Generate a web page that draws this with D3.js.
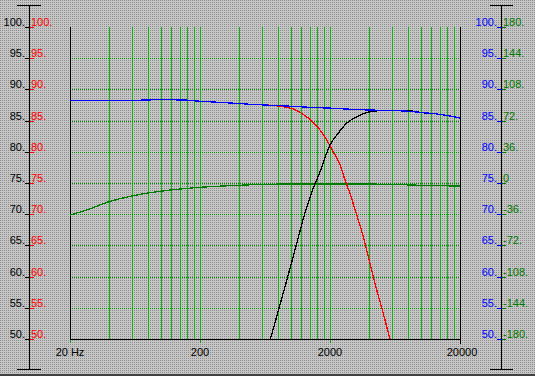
<!DOCTYPE html>
<html>
<head>
<meta charset="utf-8">
<script src="https://cdn.jsdelivr.net/npm/d3@7"></script>
<style>
  body { margin: 0; background: #c0c0c0; }
  svg { display: block; }
  text { font-family: "Liberation Sans", Arial, sans-serif; font-size: 11px; }
</style>
</head>
<body>
<div id="chart"></div>
<script>
// ---- data ----
const splTicks = [50, 55, 60, 65, 70, 75, 80, 85, 90, 95, 100];
const phaseTicks = [-180, -144, -108, -72, -36, 0, 36, 72, 108, 144, 180];
const freqTicks = [20, 200, 2000, 20000];
const freqTickText = ["20 Hz", "200", "2000", "20000"];

// [Hz, dB]
const totalResponse = [
  [20, 88.2], [50, 88.2], [100, 88.35], [150, 88.3], [200, 88.1], [300, 87.9],
  [500, 87.6], [800, 87.4], [1000, 87.3], [1500, 87.1], [2000, 87.0], [3000, 86.8],
  [4000, 86.7], [6000, 86.6], [8000, 86.5], [10000, 86.3], [14000, 86.0],
  [17000, 85.7], [20000, 85.4]
];
const wooferResponse = [
  [20, 88.2], [50, 88.2], [100, 88.35], [150, 88.3], [200, 88.1], [300, 87.9],
  [500, 87.6], [750, 87.4], [850, 87.25], [1044, 86.85], [1324, 85.6], [1489, 84.7],
  [1676, 83.5], [1886, 81.9], [2120, 80.0], [2388, 77.9], [2608, 75.5], [2850, 73.3],
  [3208, 69.9], [3608, 66.4], [4060, 62.1], [4572, 57.9], [5140, 54.1], [5718, 50.4],
  [6000, 49.0]
];
const tweeterResponse = [
  [670, 49.0], [690, 49.8], [755, 52.6], [824, 55.5], [902, 58.4], [985, 61.3],
  [1076, 64.3], [1175, 67.3], [1284, 70.2], [1446, 73.5], [1676, 76.8], [2000, 81.1],
  [2316, 83.0], [2688, 84.6], [3208, 85.6], [3830, 86.3], [4850, 86.6], [8240, 86.55],
  [10000, 86.3], [14000, 86.0], [17000, 85.7], [20000, 85.4]
];
// [Hz, degrees]
const phaseResponse = [
  [20, -37], [27, -31], [40, -21.5], [60, -15], [80, -11.5], [140, -7], [200, -5],
  [300, -3.5], [600, -1.7], [1000, -1.2], [3000, -1.1], [6000, -1.5], [8000, -2.2],
  [12000, -3.0], [20000, -3.5]
];

const W = 535, H = 376;
const plot = { left: 70, right: 460, top: 27, bottom: 339 };

const svg = d3.select("#chart").append("svg")
  .attr("width", W).attr("height", H);

// dithered grey background
const defs = svg.append("defs");
const pat = defs.append("pattern").attr("id", "dither")
  .attr("width", 2).attr("height", 2).attr("patternUnits", "userSpaceOnUse");
pat.append("rect").attr("width", 2).attr("height", 2).attr("fill", "#c6c6c6");
pat.append("rect").attr("width", 1).attr("height", 1).attr("fill", "#8e8e8e");
defs.append("clipPath").attr("id", "plotClip").append("rect")
  .attr("x", plot.left).attr("y", plot.top)
  .attr("width", plot.right - plot.left + 1).attr("height", plot.bottom - plot.top);

svg.append("rect").attr("width", W).attr("height", H).attr("fill", "url(#dither)");
svg.append("rect").attr("x", 0).attr("y", 374).attr("width", W).attr("height", 2).attr("fill", "#404040");

// scales
const x = d3.scaleLog().domain([20, 20000]).range([plot.left, plot.right]);
const y = d3.scaleLinear().domain([50, 100]).range([plot.bottom, plot.top]);
const yPhase = d3.scaleLinear().domain([-180, 180]).range([plot.bottom, plot.top]);
const px = v => Math.round(v) + 0.5;

// vertical grid: every 2 units in each decade
const gridFreqs = [];
[20, 200, 2000].forEach(d => { for (let k = 1; k <= 9; k++) gridFreqs.push(d * k); });

const grid = svg.append("g");
grid.selectAll(".vgrid").data(gridFreqs.filter(f => f > 20)).enter().append("line")
  .attr("class", "vgrid")
  .attr("x1", d => px(x(d))).attr("x2", d => px(x(d)))
  .attr("y1", plot.top).attr("y2", plot.bottom)
  .attr("stroke", "#10b410").attr("shape-rendering", "crispEdges");

grid.selectAll(".hgrid").data(splTicks.filter(v => v > 50 && v < 100)).enter().append("line")
  .attr("class", "hgrid")
  .attr("x1", plot.left).attr("x2", plot.right)
  .attr("y1", d => px(y(d))).attr("y2", d => px(y(d)))
  .attr("stroke", "#009000").attr("stroke-dasharray", "1,1")
  .attr("shape-rendering", "crispEdges");

// green ticks under the frequency axis
grid.selectAll(".ftick").data(freqTicks.slice(0, 3)).enter().append("line")
  .attr("class", "ftick")
  .attr("x1", d => px(x(d))).attr("x2", d => px(x(d)))
  .attr("y1", plot.bottom).attr("y2", plot.bottom + 4)
  .attr("stroke", "#00a000").attr("shape-rendering", "crispEdges");

// plot frame (left, bottom, right)
const frame = svg.append("g").attr("stroke", "#000").attr("shape-rendering", "crispEdges");
frame.append("line").attr("x1", px(plot.left)).attr("x2", px(plot.left)).attr("y1", plot.top).attr("y2", plot.bottom);
frame.append("line").attr("x1", plot.left).attr("x2", plot.right + 1).attr("y1", px(plot.bottom)).attr("y2", px(plot.bottom));
frame.append("line").attr("x1", px(plot.right)).attr("x2", px(plot.right)).attr("y1", plot.top).attr("y2", plot.bottom + 5);

// curves (aliased 1px lines like the original)
const curves = svg.append("g").attr("clip-path", "url(#plotClip)");
const lineDb = d3.line().curve(d3.curveMonotoneX).x(d => x(d[0])).y(d => y(d[1]));
const linePh = d3.line().curve(d3.curveMonotoneX).x(d => x(d[0])).y(d => yPhase(d[1]));

const drawCurve = (data, gen, color) => curves.append("path").datum(data).attr("d", gen)
  .attr("fill", "none").attr("stroke", color).attr("stroke-width", 1.3)
  .attr("shape-rendering", "crispEdges");

drawCurve(phaseResponse, linePh, "#007c00");
drawCurve(wooferResponse, lineDb, "#ff0000");
drawCurve(tweeterResponse, lineDb, "#000000");
drawCurve(totalResponse, lineDb, "#0000ff");

// left axis: black and red dB labels
const leftAxisX = 29;
const left = svg.append("g").attr("shape-rendering", "crispEdges");
left.append("line").attr("x1", px(leftAxisX)).attr("x2", px(leftAxisX)).attr("y1", 5).attr("y2", 369).attr("stroke", "#000");
left.append("line").attr("x1", 17).attr("x2", 41).attr("y1", 5.5).attr("y2", 5.5).attr("stroke", "#000");
left.append("line").attr("x1", 17).attr("x2", 41).attr("y1", 369.5).attr("y2", 369.5).attr("stroke", "#000");

splTicks.forEach(v => {
  const yy = Math.round(y(v));
  left.append("line").attr("x1", 25).attr("x2", 30).attr("y1", yy + 0.5).attr("y2", yy + 0.5).attr("stroke", "#000");
  left.append("line").attr("x1", 30).attr("x2", 34).attr("y1", yy + 0.5).attr("y2", yy + 0.5).attr("stroke", "#ff0000");
  left.append("text").attr("x", 25).attr("y", yy - 1).attr("text-anchor", "end")
    .attr("fill", "#000").text(v + ".");
  left.append("text").attr("x", 31).attr("y", yy - 1)
    .attr("fill", "#ff0000").text(v + ".");
});

// right axis: blue dB and green phase labels
const rightAxisX = 501;
const right = svg.append("g").attr("shape-rendering", "crispEdges");
right.append("line").attr("x1", px(rightAxisX)).attr("x2", px(rightAxisX)).attr("y1", 5).attr("y2", 369).attr("stroke", "#000");
right.append("line").attr("x1", 490).attr("x2", 513).attr("y1", 5.5).attr("y2", 5.5).attr("stroke", "#000");
right.append("line").attr("x1", 490).attr("x2", 513).attr("y1", 369.5).attr("y2", 369.5).attr("stroke", "#000");

splTicks.forEach((v, i) => {
  const yy = Math.round(y(v));
  right.append("line").attr("x1", 497).attr("x2", 502).attr("y1", yy + 0.5).attr("y2", yy + 0.5).attr("stroke", "#0000ff");
  right.append("line").attr("x1", 502).attr("x2", 506).attr("y1", yy + 0.5).attr("y2", yy + 0.5).attr("stroke", "#007800");
  right.append("text").attr("x", 497).attr("y", yy - 1).attr("text-anchor", "end")
    .attr("fill", "#0000ff").text(v + ".");
  const ph = phaseTicks[i];
  right.append("text").attr("x", 503).attr("y", yy - 1)
    .attr("fill", "#007800").text(ph === 0 ? "0" : ph + ".");
});

// frequency labels
svg.append("g").selectAll("text").data(freqTicks).enter().append("text")
  .attr("x", (d, i) => x(d) + (i === 3 ? 2 : 0))
  .attr("y", 356)
  .attr("text-anchor", "middle")
  .attr("fill", "#000")
  .text((d, i) => freqTickText[i]);
</script>
</body>
</html>
